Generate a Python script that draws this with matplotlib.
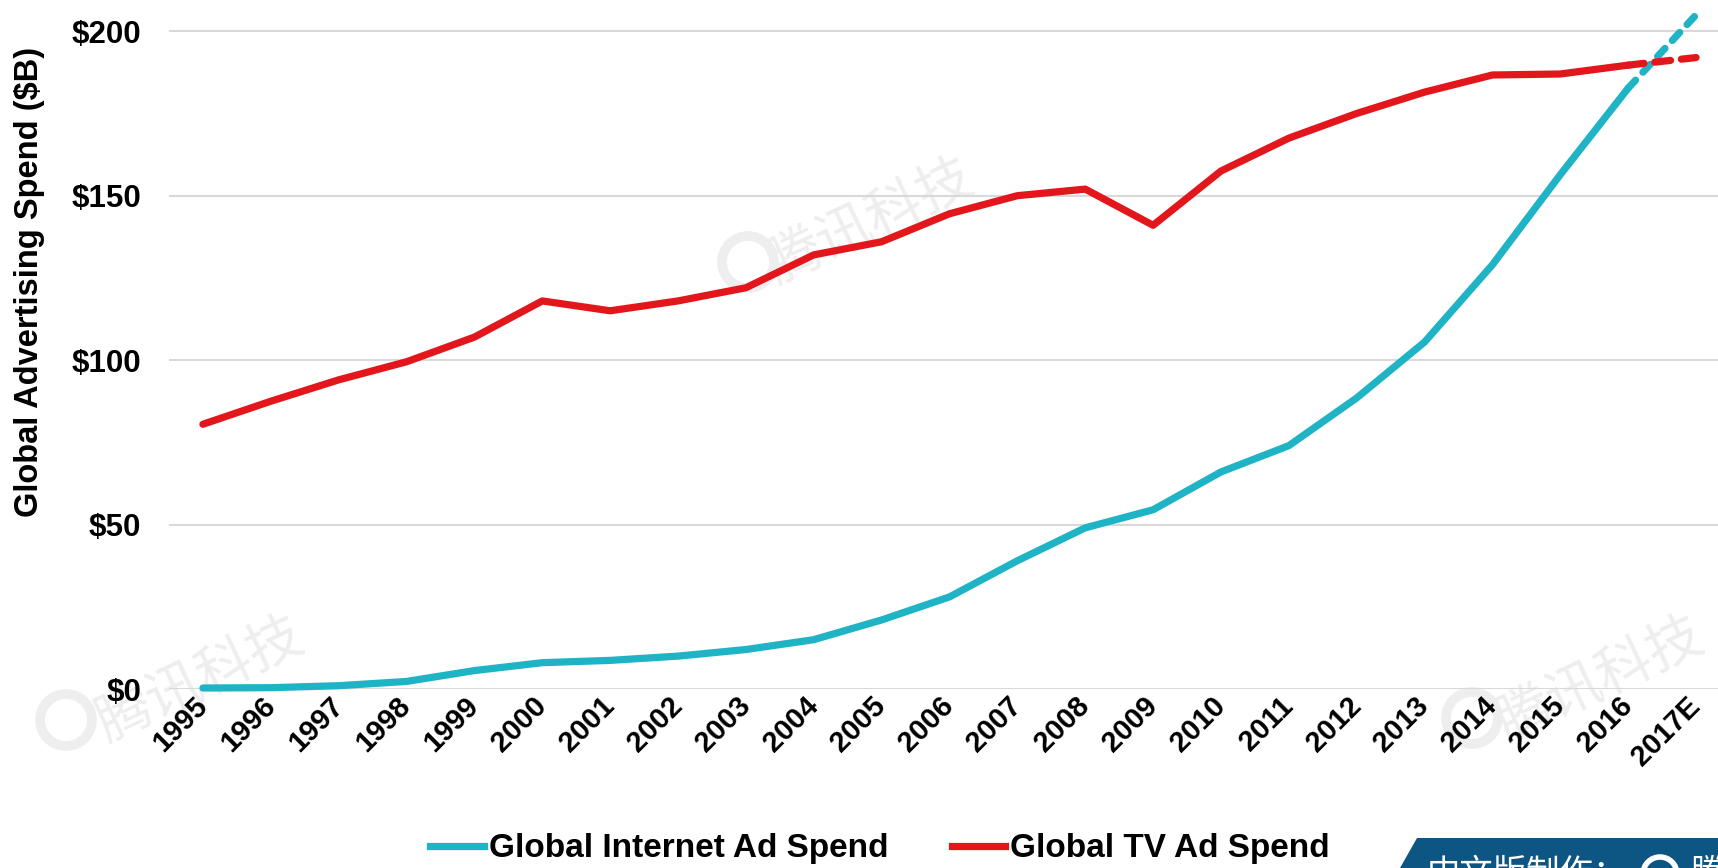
import matplotlib
matplotlib.use("Agg")
import matplotlib.pyplot as plt
from matplotlib.patches import Polygon, Ellipse
from matplotlib.lines import Line2D

# ---- data ----
years = ["1995", "1996", "1997", "1998", "1999", "2000", "2001", "2002",
         "2003", "2004", "2005", "2006", "2007", "2008", "2009", "2010",
         "2011", "2012", "2013", "2014", "2015", "2016", "2017E"]
internet_spend = [0.3, 0.4, 1.0, 2.3, 5.6, 8.0, 8.7, 10.0, 12.0, 15.0, 21.0,
                  28.0, 39.0, 49.0, 54.5, 66.0, 74.0, 88.5, 105.5, 129.0,
                  156.4, 182.7, 205.0]
tv_spend = [80.5, 87.5, 94.0, 99.5, 107.0, 118.0, 115.0, 118.0, 122.0, 132.0,
            136.0, 144.5, 150.0, 152.0, 141.0, 157.5, 167.5, 175.0, 181.5,
            186.7, 187.0, 189.7, 192.0]
y_ticks = [0, 50, 100, 150, 200]
y_tick_labels = ["$0", "$50", "$100", "$150", "$200"]
series_names = ["Global Internet Ad Spend", "Global TV Ad Spend"]

CYAN = "#1FB3C6"
RED = "#E2161B"
FONT = "Liberation Sans"

W, H = 1718, 868
fig = plt.figure(figsize=(W / 100, H / 100), dpi=100)
fig.patch.set_facecolor("white")

# axes placed in pixel terms
left_px, right_px, bottom_px, top_px = 169, 1730, 689, 0
ax = fig.add_axes([left_px / W, 1 - bottom_px / H,
                   (right_px - left_px) / W, (bottom_px - top_px) / H])
ax.set_facecolor("none")
ax.set_zorder(1)
ax.set_xlim(-0.5, len(years) - 0.5)
ax.set_ylim(0, 209.5)

for s in ax.spines.values():
    s.set_visible(False)
ax.set_yticks(y_ticks)
ax.set_yticklabels(y_tick_labels)
ax.yaxis.grid(True, color="#D9D9D9", linewidth=1.5)
ax.set_axisbelow(True)
ax.tick_params(axis="both", length=0)
ax.tick_params(axis="y", pad=20)
for lbl in ax.get_yticklabels():
    lbl.set_fontfamily(FONT)
    lbl.set_fontweight("bold")
    lbl.set_fontsize(22.5)

x = list(range(len(years)))
ax.set_xticks(x)
ax.set_xticklabels(years, rotation=45, ha="right", va="center",
                   rotation_mode="anchor", fontfamily=FONT,
                   fontweight="bold", fontsize=21)
ax.tick_params(axis="x", pad=9)

# faint watermarks, kept beneath the axes
def watermark(cx, cy, lx, ly):
    fig.text(cx / W, 1 - cy / H, "腾讯科技", fontfamily="Noto Sans CJK SC",
             fontsize=40, color="#EEEEEE", rotation=25, ha="center",
             va="center", zorder=-1)
    r = 26
    fig.add_artist(Ellipse((lx / W, 1 - ly / H), 2 * r / W, 2 * r / H,
                           fill=False, edgecolor="#EEEEEE", linewidth=7,
                           zorder=-1))

watermark(870, 222, 748, 262)
watermark(200, 680, 66, 720)
watermark(1600, 680, 1472, 718)

lw = 5.2
n_solid = len(years) - 1  # last point is an estimate
ax.plot(x[:n_solid], internet_spend[:n_solid], color=CYAN, lw=lw,
        solid_capstyle="round", solid_joinstyle="round", clip_on=False, zorder=3)
ax.plot(x[n_solid - 1:], internet_spend[n_solid - 1:], color=CYAN, lw=lw,
        linestyle=(0, (1.5, 1.5)), dash_capstyle="round", clip_on=False, zorder=3)
ax.plot(x[:n_solid], tv_spend[:n_solid], color=RED, lw=lw,
        solid_capstyle="round", solid_joinstyle="round", clip_on=False, zorder=3)
ax.plot(x[n_solid - 1:], tv_spend[n_solid - 1:], color=RED, lw=lw,
        linestyle=(0, (2.2, 1.5)), dash_capstyle="round", clip_on=False, zorder=3)

# y-axis title
fig.text(30 / W, 1 - 282 / H, "Global Advertising Spend ($B)", rotation=90,
         ha="center", va="center", fontfamily=FONT, fontweight="bold",
         fontsize=23.5)

# legend
handles = [Line2D([0], [0], color=CYAN, lw=lw),
           Line2D([0], [0], color=RED, lw=lw)]
fig.legend(handles, series_names, loc="center", ncol=2,
           bbox_to_anchor=(880 / W, 1 - 849 / H), frameon=False,
           prop={"family": FONT, "weight": "bold", "size": 24},
           handlelength=1.6, handletextpad=0.15, columnspacing=1.9)

# banner in the bottom-right corner
banner = Polygon([(1417 / W, 1 - 838 / H), (1.0, 1 - 838 / H), (1.0, 0.0),
                  (1400 / W, 0.0)], closed=True, facecolor="#0D5583",
                 edgecolor="none", transform=fig.transFigure, zorder=2)
fig.add_artist(banner)
fig.text(1427 / W, 1 - 856 / H, "中文版制作：", fontfamily="Noto Sans CJK SC",
         fontsize=24, color="white", ha="left", va="top", zorder=3)
fig.add_artist(Ellipse((1660 / W, 1 - 874 / H), 34 / W, 34 / H, fill=False,
                       edgecolor="white", linewidth=4, zorder=3))
fig.text(1690 / W, 1 - 856 / H, "腾讯", fontfamily="Noto Sans CJK SC",
         fontsize=24, color="white", ha="left", va="top", zorder=3)

fig.savefig("out.png", dpi=100)
